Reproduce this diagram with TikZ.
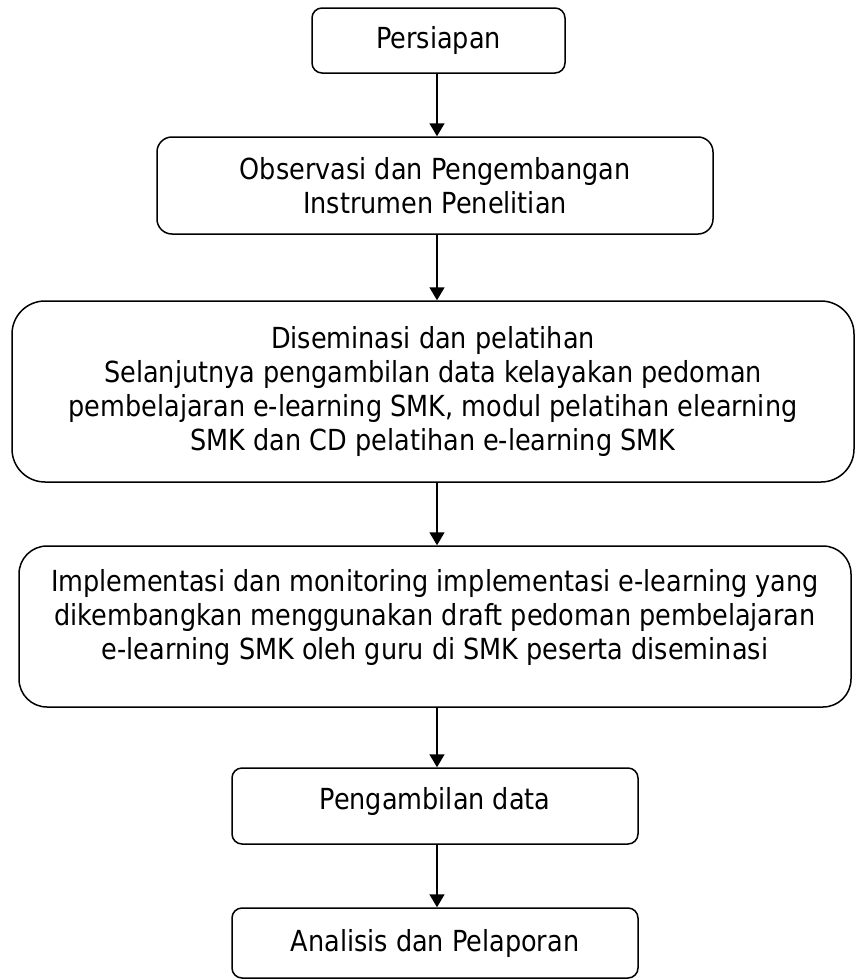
\documentclass[tikz,border=0pt]{standalone}
\usepackage{fontspec}
\setmainfont{DejaVu Sans}[FakeStretch=0.88]
\usetikzlibrary{arrows.meta}
\tikzset{
	stage/.style={draw, line width=1.5pt, align=center, inner sep=0pt,
		font=\fontsize{29}{34}\selectfont},
	flow/.style={line width=1.6pt, -{Triangle[width=15pt,length=13pt]}}
}
\begin{document}
\begin{tikzpicture}[x=1pt,y=-1pt]
	\useasboundingbox (0,0) rectangle (855,980);
	\coordinate (axis) at (437,0);
	\node[stage, rounded corners=10pt, minimum width=253pt, minimum height=65pt] (prep) at (438.5,40.5) {Persiapan};
	\node[stage, rounded corners=15pt, minimum width=556pt, minimum height=97pt] (obs) at (435,185.5) {Observasi dan Pengembangan\\Instrumen Penelitian};
	\node[stage, rounded corners=33pt, minimum width=842pt, minimum height=181pt] (dis) at (433,391.5) {Diseminasi dan pelatihan\\Selanjutnya pengambilan data kelayakan pedoman\\pembelajaran e-learning SMK, modul pelatihan elearning\\SMK dan CD pelatihan e-learning SMK};
	\node[stage, rounded corners=28pt, minimum width=832pt, minimum height=161pt, text depth=24pt] (impl) at (435,626.5) {Implementasi dan monitoring implementasi e-learning yang\\dikembangkan menggunakan draft pedoman pembelajaran\\e-learning SMK oleh guru di SMK peserta diseminasi};
	\node[stage, rounded corners=10pt, minimum width=406pt, minimum height=76pt, text depth=16pt] (data) at (435,806) {Pengambilan data};
	\node[stage, rounded corners=10pt, minimum width=406pt, minimum height=70pt] (report) at (435,943) {Analisis dan Pelaporan};
	% panah antar tahap
	\foreach \from/\to in {prep/obs, obs/dis, dis/impl, impl/data, data/report}
	{
		\draw[flow] (\from.south -| axis) -- (\to.north -| axis);
	}
\end{tikzpicture}
\end{document}
